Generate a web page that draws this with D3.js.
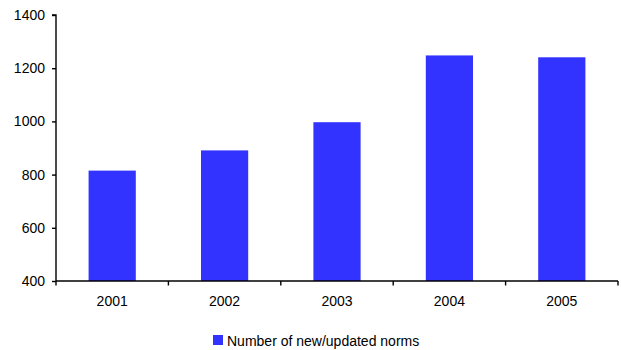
<!DOCTYPE html>
<html>
<head>
<meta charset="utf-8">
<script src="https://cdn.jsdelivr.net/npm/d3@7"></script>
<style>
  html, body { margin: 0; padding: 0; background: #fff; }
  svg { display: block; }
  text { font-family: "Liberation Sans", Arial, Helvetica, sans-serif; fill: #000; }
</style>
</head>
<body>
<svg id="chart" width="621" height="350"></svg>
<script>
// Yearly count of new or updated norms
const years = ["2001", "2002", "2003", "2004", "2005"];
const normCounts = [815, 891, 997, 1248, 1241];
const yTicks = [400, 600, 800, 1000, 1200, 1400];
const seriesName = "Number of new/updated norms";

const svg = d3.select("#chart");
const plotLeft = 56, plotRight = 618, plotTop = 15, plotBottom = 281;
const fontSize = "14px";

const x = d3.scaleBand().domain(years).range([plotLeft, plotRight]).paddingInner(0.58).paddingOuter(0.29);
const band = d3.scaleBand().domain(years).range([plotLeft, plotRight]);
const y = d3.scaleLinear().domain([400, 1400]).range([plotBottom, plotTop]);

// bars
svg.append("g").selectAll("rect")
  .data(years.map((yr, i) => ({ yr, v: normCounts[i] })))
  .join("rect")
  .attr("x", d => x(d.yr))
  .attr("width", x.bandwidth())
  .attr("y", d => y(d.v))
  .attr("height", d => y(400) - y(d.v))
  .attr("fill", "#3333ff");

// y axis
const yAxis = svg.append("g")
  .attr("transform", `translate(${plotLeft},0)`)
  .call(d3.axisLeft(y).tickValues(yTicks).tickSize(4).tickPadding(7).tickFormat(d3.format("d")));
yAxis.selectAll("path, line").attr("stroke", "#000").attr("stroke-width", 1.4);
yAxis.selectAll("text").style("font-size", fontSize).attr("fill", "#000");
yAxis.select(".domain").attr("d", `M-4,${plotTop}H0V${plotBottom}`);

// x axis with ticks at category boundaries
const xAxis = svg.append("g").attr("transform", `translate(0,${plotBottom})`);
xAxis.append("line")
  .attr("x1", plotLeft).attr("x2", plotRight)
  .attr("stroke", "#000").attr("stroke-width", 1.4);
const bounds = years.map(yr => band(yr)).concat([plotRight]);
xAxis.selectAll("line.tick")
  .data(bounds)
  .join("line")
  .attr("class", "tick")
  .attr("x1", d => d).attr("x2", d => d)
  .attr("y1", 0).attr("y2", 4.5)
  .attr("stroke", "#000").attr("stroke-width", 1.4);
xAxis.selectAll("text")
  .data(years)
  .join("text")
  .attr("x", d => band(d) + band.bandwidth() / 2)
  .attr("y", 24.5)
  .attr("text-anchor", "middle")
  .style("font-size", fontSize)
  .text(d => d);

// legend
const legend = svg.append("g").attr("transform", "translate(213,335)");
legend.append("rect").attr("width", 10).attr("height", 10).attr("fill", "#3333ff");
legend.append("text").attr("x", 14).attr("y", 10.5)
  .style("font-size", fontSize).text(seriesName);
</script>
</body>
</html>
